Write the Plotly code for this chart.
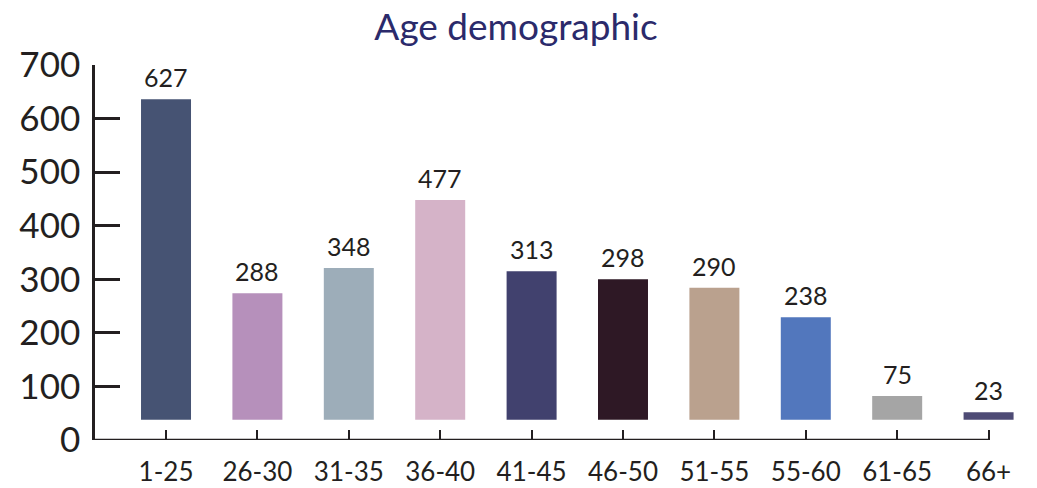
import plotly.graph_objects as go

categories = ["1-25", "26-30", "31-35", "36-40", "41-45", "46-50", "51-55", "55-60", "61-65", "66+"]
# printed value labels
values = [627, 288, 348, 477, 313, 298, 290, 238, 75, 23]
# bar tops as drawn against the y axis
bar_tops = [636, 274, 321, 448, 315, 300, 284, 229, 82, 52]
bar_base = 38
colors = ["#465373", "#b690bb", "#9dadb9", "#d5b3c8", "#41416e",
          "#2e1825", "#baa18e", "#5277bd", "#a5a5a5", "#4e4b75"]
y_ticks = [0, 100, 200, 300, 400, 500, 600, 700]

INK = "#231f20"
FONT = "Lato"

fig = go.Figure()
fig.add_trace(go.Bar(
    x=list(range(len(categories))),
    y=[t - bar_base for t in bar_tops],
    base=bar_base,
    width=0.547,
    marker=dict(color=colors, line=dict(width=0)),
    hovertext=[f"{c}: {v}" for c, v in zip(categories, values)],
    hoverinfo="text",
))

for i, (v, t) in enumerate(zip(values, bar_tops)):
    fig.add_annotation(x=i, y=t, text=str(v), showarrow=False,
                       xanchor="center", yanchor="bottom", yshift=5,
                       font=dict(family=FONT, size=25, color=INK))

fig.add_shape(type="line", xref="x", yref="y", x0=-0.777, x1=len(categories) - 1,
              y0=0, y1=0, line=dict(color=INK, width=2.5))

fig.update_layout(
    width=1037, height=488,
    margin=dict(l=95, r=21, t=65, b=48, autoexpand=False),
    paper_bgcolor="white", plot_bgcolor="white",
    showlegend=False,
    title=dict(text="Age demographic", x=516 / 1037, xref="container", xanchor="center",
               y=1 - 27 / 488, yref="container", yanchor="middle",
               font=dict(family=FONT, size=37, color="#2b2a6b")),
    xaxis=dict(range=[-0.777, 9.3], tickmode="array",
               tickvals=list(range(len(categories))), ticktext=categories,
               showline=False, showgrid=False, zeroline=False, automargin=False,
               ticks="inside", ticklen=10, tickwidth=2, tickcolor=INK,
               ticklabelstandoff=14,
               tickfont=dict(family=FONT, size=26, color=INK)),
    yaxis=dict(range=[0, 700], tickvals=y_ticks,
               showline=True, linecolor=INK, linewidth=2.5,
               showgrid=False, zeroline=False, automargin=False,
               ticks="inside", ticklen=25, tickwidth=2.5, tickcolor=INK,
               ticklabelstandoff=5,
               tickfont=dict(family=FONT, size=35, color=INK)),
)

fig.write_html("out.html")
